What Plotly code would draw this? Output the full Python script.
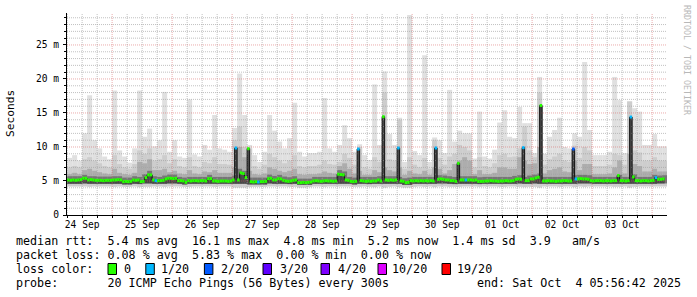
import numpy as np
import pandas as pd
import plotly.graph_objects as go

# ---------------- time frame ----------------
START = pd.Timestamp("2025-09-24 05:56:42")
END = pd.Timestamp("2025-10-04 05:56:42")
FIRST_BIN = pd.Timestamp("2025-09-24 06:00:00")
Y_MAX = 29.7

# ---------------- data ----------------
# hourly median rtt in ms (240 hours)
median_ms = [
    5.15, 5.1, 5.15, 5.1, 5.15, 5.2, 5.4, 5.4, 5.15, 5.2,
    5.15, 5.1, 5.1, 5.1, 5.05, 5.1, 5.1, 5.1, 5.15, 5.15,
    5.2, 5.15, 4.9, 4.95, 4.9, 4.95, 5.15, 5.1, 5.15, 4.9,
    4.95, 5.5, 5.9, 5.9, 5.15, 5.05, 5.05, 5.05, 5.1, 5.3,
    5.4, 5.4, 5.35, 5.4, 5.05, 5.05, 5.0, 4.8, 5.05, 5.0,
    5.05, 5.05, 5.0, 5.05, 5.05, 5.0, 5.35, 5.35, 5.0, 5.0,
    4.95, 5.0, 5.0, 5.0, 4.95, 5.0, 5.15, 9.85, 5.15, 6.2,
    6.1, 5.5, 9.75, 4.9, 4.85, 4.9, 4.85, 4.9, 4.9, 4.95,
    5.35, 5.4, 5.15, 5.15, 5.35, 5.3, 5.1, 5.0, 4.95, 5.0,
    5.1, 5.15, 4.75, 4.75, 4.8, 4.75, 4.8, 4.85, 5.0, 5.05,
    5.0, 4.95, 5.0, 5.05, 5.0, 5.0, 4.95, 5.0, 6.0, 5.95,
    5.9, 5.15, 5.1, 4.95, 4.9, 4.95, 9.7, 5.05, 5.0, 4.95,
    5.0, 4.95, 5.0, 5.0, 5.15, 5.0, 14.45, 5.15, 5.1, 5.15,
    5.1, 5.15, 9.85, 5.0, 4.95, 4.75, 4.8, 5.05, 5.0, 5.05,
    5.0, 5.05, 5.0, 5.05, 5.0, 5.05, 5.0, 9.85, 5.25, 5.3,
    5.25, 5.15, 5.15, 5.05, 5.05, 4.95, 7.6, 5.15, 5.15, 5.15,
    5.15, 5.15, 5.1, 5.15, 4.95, 4.95, 4.95, 5.0, 5.0, 5.05,
    5.0, 5.0, 4.95, 5.0, 5.0, 5.05, 5.0, 5.0, 5.05, 5.25,
    5.3, 5.25, 9.9, 5.05, 5.05, 5.3, 5.3, 5.45, 5.55, 16.1,
    5.0, 5.0, 5.05, 5.0, 5.0, 4.95, 5.0, 5.0, 5.05, 5.05,
    5.0, 5.0, 9.7, 5.3, 5.3, 5.35, 5.3, 5.3, 5.25, 5.05,
    5.0, 5.05, 5.05, 5.05, 5.0, 5.05, 5.05, 5.0, 5.05, 5.05,
    5.8, 5.05, 5.05, 5.0, 5.05, 14.4, 5.6, 5.05, 5.05, 5.0,
    5.05, 5.05, 5.0, 5.05, 5.1, 5.5, 5.25, 5.25, 5.3, None,
]

# hourly average pings lost (out of 20)
loss_pings = [0.0] * 240
for _i, _v in [(35, 0.3), (67, 0.5), (76, 0.2), (116, 0.6), (132, 0.5), (147, 0.7),
               (159, 0.3), (182, 0.6), (202, 1.17), (203, 0.3), (225, 0.8), (235, 0.4)]:
    loss_pings[_i] = _v

# smoke, 2-hour bins (120 bins), ms
smoke_max = [
    8.4, 8.8, 8.0, 12.0, 17.6, 11.0, 9.8, 8.6, 8.2, 18.3,
    9.5, 8.6, 7.7, 9.8, 18.3, 11.5, 12.7, 10.1, 11.0, 18.1,
    9.3, 11.0, 8.6, 8.4, 17.0, 8.9, 8.6, 10.3, 9.6, 14.7,
    9.8, 9.6, 9.3, 12.8, 20.8, 14.7, 10.3, 8.8, 7.8, 9.3,
    14.7, 12.4, 10.8, 9.8, 11.3, 16.5, 9.3, 8.6, 9.1, 9.1,
    9.3, 17.2, 9.8, 9.3, 10.3, 13.2, 11.3, 9.3, 10.4, 8.8,
    8.1, 19.2, 10.3, 21.1, 11.9, 10.3, 14.3, 7.8, 29.4, 9.4,
    8.8, 23.5, 7.8, 11.4, 11.0, 9.1, 18.4, 10.8, 12.4, 12.0,
    12.0, 8.3, 15.2, 8.6, 8.3, 9.6, 13.6, 15.4, 11.5, 11.3,
    15.9, 13.5, 13.5, 9.1, 20.3, 9.0, 11.5, 12.5, 14.3, 10.0,
    9.8, 12.0, 11.5, 22.5, 12.5, 8.8, 8.8, 8.8, 9.3, 20.3,
    16.9, 9.1, 16.7, 15.7, 15.2, 10.3, 10.3, 11.9, 10.1, 10.1,
]
smoke_p90 = [
    7.0, 7.2, 7.0, 8.2, 8.5, 8.0, 7.6, 7.2, 7.0, 8.8,
    7.5, 7.0, 6.8, 7.5, 9.5, 9.0, 9.8, 8.0, 8.2, 8.8,
    7.6, 8.2, 7.2, 7.0, 8.5, 7.2, 7.0, 7.8, 7.6, 8.5,
    7.5, 7.5, 7.4, 11.0, 13.0, 10.0, 9.8, 7.2, 6.8, 7.4,
    9.0, 8.5, 8.0, 7.6, 8.0, 8.8, 7.2, 7.0, 7.2, 7.2,
    7.4, 8.0, 7.5, 7.4, 7.8, 9.0, 8.4, 7.4, 10.0, 7.0,
    6.8, 8.5, 7.8, 18.0, 8.2, 8.0, 14.0, 6.8, 8.5, 7.4,
    7.0, 8.4, 6.8, 11.0, 8.4, 7.4, 8.6, 9.0, 10.3, 10.0,
    9.5, 7.0, 8.5, 7.2, 7.0, 7.6, 8.8, 9.0, 8.5, 8.6,
    9.8, 13.0, 9.5, 8.5, 18.0, 7.4, 8.2, 8.6, 9.0, 8.0,
    7.8, 10.2, 8.4, 10.0, 9.5, 7.2, 7.2, 7.2, 7.4, 9.0,
    8.8, 7.4, 16.7, 9.5, 9.2, 8.0, 8.0, 8.5, 8.0, 8.0,
]
smoke_p75 = [
    6.0, 6.2, 6.0, 6.6, 6.8, 6.5, 6.3, 6.1, 6.0, 6.8,
    6.2, 6.0, 5.9, 6.2, 7.8, 7.6, 8.2, 6.6, 6.6, 6.8,
    6.3, 6.5, 6.1, 6.0, 6.6, 6.1, 6.0, 6.4, 6.3, 6.6,
    6.2, 6.2, 6.2, 7.0, 10.0, 8.5, 6.5, 6.0, 5.9, 6.1,
    7.0, 6.8, 6.5, 6.3, 6.5, 6.8, 6.0, 5.9, 6.0, 6.0,
    6.1, 6.4, 6.2, 6.1, 7.2, 7.6, 6.8, 6.1, 6.5, 5.9,
    5.9, 6.6, 6.3, 7.0, 6.6, 6.4, 7.0, 5.9, 6.5, 6.1,
    6.0, 6.5, 5.9, 7.0, 6.8, 6.1, 6.6, 7.5, 8.0, 8.5,
    8.0, 6.0, 6.6, 6.0, 6.0, 6.2, 7.0, 7.0, 6.8, 6.8,
    8.5, 8.0, 7.5, 7.6, 10.0, 6.1, 6.6, 6.8, 7.0, 6.4,
    6.3, 8.0, 6.6, 7.5, 7.5, 6.0, 6.0, 6.0, 6.1, 7.0,
    8.0, 6.1, 9.0, 7.5, 7.2, 6.4, 6.4, 6.8, 6.4, 6.4,
]
smoke_p60 = [
    5.7, 5.7, 5.7, 5.9, 5.7, 5.7, 5.65, 5.65, 5.65, 5.7,
    5.7, 5.5, 5.5, 5.7, 5.6, 6.0, 6.5, 5.7, 5.6, 5.8,
    5.95, 5.95, 5.6, 5.5, 5.6, 5.6, 5.6, 5.6, 5.9, 5.6,
    5.6, 5.6, 5.6, 5.8, 6.8, 6.5, 5.5, 5.5, 5.5, 5.5,
    5.95, 5.75, 5.9, 5.65, 5.55, 5.7, 5.35, 5.35, 5.35, 5.6,
    5.6, 5.6, 5.6, 5.6, 6.6, 6.4, 5.6, 5.5, 5.6, 5.6,
    5.6, 5.6, 5.7, 5.7, 5.7, 5.7, 5.6, 5.4, 5.5, 5.6,
    5.6, 5.6, 5.6, 5.6, 5.85, 5.8, 5.7, 5.6, 5.7, 5.7,
    5.7, 5.7, 5.55, 5.6, 5.6, 5.6, 5.6, 5.6, 5.6, 5.75,
    5.85, 5.6, 5.8, 5.95, 6.1, 5.6, 5.6, 5.6, 5.6, 5.6,
    5.6, 5.85, 5.9, 5.9, 5.85, 5.6, 5.6, 5.6, 5.6, 5.6,
    5.9, 5.6, 5.6, 6.0, 5.6, 5.6, 5.6, 5.9, 5.8, 5.85,
]
smoke_low = [
    4.6, 4.6, 4.6, 4.65, 4.6, 4.6, 4.6, 4.6, 4.6, 4.6,
    4.6, 4.5, 4.5, 4.6, 4.55, 4.65, 4.65, 4.6, 4.6, 4.6,
    4.65, 4.65, 4.6, 4.5, 4.6, 4.6, 4.6, 4.6, 4.6, 4.6,
    4.6, 4.6, 4.6, 4.6, 4.6, 4.6, 4.5, 4.5, 4.5, 4.5,
    4.65, 4.6, 4.6, 4.6, 4.55, 4.6, 4.45, 4.45, 4.45, 4.6,
    4.6, 4.6, 4.6, 4.6, 4.6, 4.6, 4.6, 4.5, 4.6, 4.6,
    4.55, 4.6, 4.6, 4.6, 4.6, 4.6, 4.6, 4.45, 4.45, 4.6,
    4.6, 4.6, 4.6, 4.6, 4.65, 4.65, 4.6, 4.55, 4.6, 4.6,
    4.6, 4.6, 4.55, 4.6, 4.6, 4.6, 4.6, 4.6, 4.6, 4.6,
    4.65, 4.6, 4.6, 4.65, 4.6, 4.6, 4.6, 4.6, 4.6, 4.6,
    4.6, 4.6, 4.65, 4.65, 4.65, 4.6, 4.6, 4.6, 4.6, 4.6,
    4.6, 4.6, 4.6, 4.6, 4.6, 4.6, 4.6, 4.6, 4.65, 4.65,
]
smoke_min = [
    4.2, 4.2, 4.2, 4.2, 4.15, 4.2, 4.2, 4.2, 4.2, 4.15,
    4.2, 4.15, 4.15, 4.2, 4.1, 4.15, 4.15, 4.2, 4.2, 4.15,
    4.2, 4.2, 4.2, 4.15, 4.15, 4.2, 4.2, 4.2, 4.2, 4.15,
    4.2, 4.2, 4.2, 4.05, 4.05, 4.05, 4.1, 4.15, 4.15, 4.15,
    4.2, 4.2, 4.2, 4.2, 4.15, 4.15, 4.05, 4.05, 4.1, 4.2,
    4.2, 4.15, 4.2, 4.2, 4.2, 4.2, 4.2, 4.15, 4.15, 4.2,
    4.15, 4.1, 4.2, 4.05, 4.15, 4.2, 4.1, 4.05, 4.05, 4.15,
    4.2, 4.15, 4.2, 4.1, 4.2, 4.2, 4.15, 4.15, 4.15, 4.2,
    4.2, 4.2, 4.15, 4.2, 4.2, 4.2, 4.15, 4.15, 4.2, 4.2,
    4.15, 4.1, 4.15, 4.15, 4.05, 4.2, 4.2, 4.2, 4.15, 4.2,
    4.2, 4.1, 4.2, 4.15, 4.2, 4.2, 4.2, 4.2, 4.2, 4.15,
    4.15, 4.2, 4.05, 4.15, 4.2, 4.2, 4.2, 4.2, 4.2, 4.2,
]

# axes labels
y_tick_vals = [0, 5, 10, 15, 20, 25]
y_tick_text = ["0", "5 m", "10 m", "15 m", "20 m", "25 m"]
day_labels = ["24 Sep", "25 Sep", "26 Sep", "27 Sep", "28 Sep",
              "29 Sep", "30 Sep", "01 Oct", "02 Oct", "03 Oct"]

# loss colour classes
loss_labels = ["0", "1/20", "2/20", "3/20", "4/20", "10/20", "19/20"]
loss_upper = [0, 1, 2, 3, 4, 10, 20]
loss_colors = ["#26ff00", "#00b8ff", "#0059ff", "#5e00ff", "#7e00ff", "#dd00ff", "#ff0000"]

stat_lines = [
    "median rtt:  5.4 ms avg  16.1 ms max  4.8 ms min  5.2 ms now  1.4 ms sd  3.9   am/s",
    "packet loss: 0.08 % avg  5.83 % max  0.00 % min  0.00 % now",
]
probe_text = "probe:       20 ICMP Echo Pings (56 Bytes) every 300s"
end_text = "end: Sat Oct  4 05:56:42 2025"
side_text = "RRDTOOL / TOBI OETIKER"

# ---------------- geometry helpers ----------------
W, H = 697, 297
ML, MR, MT, MB = 67, 30, 13, 82
PW, PH = W - ML - MR, H - MT - MB


def px_x(p):
    return (p - ML) / PW


def px_y(p):
    return (H - MB - p) / PH


def ts(t):
    return t.strftime("%Y-%m-%d %H:%M:%S")


MONO = "DejaVu Sans Mono"
n_h = len(median_ms)
n_b = len(smoke_max)
hour = pd.Timedelta(hours=1)
hour_start = [FIRST_BIN + i * hour for i in range(n_h)]
hour_mid = [ts(t + hour / 2) for t in hour_start]
bin_mid = [ts(FIRST_BIN + (2 * j + 1) * hour) for j in range(n_b)]

fig = go.Figure()

# ---------------- smoke ----------------
layers = [
    (smoke_max, smoke_min, "#e0e0e0"),
    (smoke_p90, smoke_min, "#cdcdcd"),
    (smoke_p75, smoke_low, "#adadad"),
    (smoke_p60, smoke_low, "#767676"),
]
for top, base, col in layers:
    top_a = np.array(top, dtype=float)
    base_a = np.array(base, dtype=float)
    fig.add_trace(go.Bar(x=bin_mid, y=top_a - base_a, base=base_a,
                         width=2 * 3600 * 1000,
                         marker=dict(color=col, line=dict(width=0)),
                         hoverinfo="skip", showlegend=False))

# dark column under the hourly median
med_a = np.array([np.nan if v is None else v for v in median_ms], dtype=float)
low_h = np.array(smoke_low, dtype=float)[np.arange(n_h) // 2]
fig.add_trace(go.Bar(x=hour_mid, y=med_a - low_h, base=low_h, width=3600 * 1000,
                     marker=dict(color="#484848", line=dict(width=0)),
                     hoverinfo="skip", showlegend=False))

# ---------------- grid (drawn over the smoke) ----------------
six = pd.date_range("2025-09-24 06:00", "2025-10-04 00:00", freq="6h")
minor_v = [t for t in six if t.hour != 0]
major_v = [t for t in six if t.hour == 0]
minor_h = [v for v in range(1, 30) if v % 5 != 0 and v < Y_MAX]
major_h = [v for v in range(5, 30, 5)]


def vlines(times):
    xs, ys = [], []
    for t in times:
        xs += [ts(t), ts(t), None]
        ys += [0, Y_MAX, None]
    return xs, ys


def hlines(vals):
    xs, ys = [], []
    for v in vals:
        xs += [ts(START), ts(END), None]
        ys += [v, v, None]
    return xs, ys


for (xs, ys), col in [(vlines(minor_v), "rgba(160,160,160,0.65)"),
                      (hlines(minor_h), "rgba(160,160,160,0.65)"),
                      (vlines(major_v), "rgba(215,90,90,0.5)"),
                      (hlines(major_h), "rgba(215,90,90,0.5)")]:
    fig.add_trace(go.Scatter(x=xs, y=ys, mode="lines",
                             line=dict(color=col, width=1, dash="1px,1px"),
                             hoverinfo="skip", showlegend=False))

# ---------------- median: thin dark step line ----------------
sx, sy = [], []
for i, v in enumerate(median_ms):
    if v is None:
        sx.append(None)
        sy.append(None)
        continue
    sx += [ts(hour_start[i]), ts(hour_start[i] + hour)]
    sy += [v, v]
fig.add_trace(go.Scatter(x=sx, y=sy, mode="lines",
                         line=dict(color="#101010", width=1),
                         hoverinfo="skip", showlegend=False))


def loss_class(v):
    if v <= 0:
        return 0
    for k in range(1, len(loss_upper)):
        if v <= loss_upper[k]:
            return k
    return len(loss_upper) - 1


# coloured median boxes per loss class
for k, col in enumerate(loss_colors):
    xs, ys = [], []
    for i, v in enumerate(median_ms):
        if v is None or loss_class(loss_pings[i]) != k:
            continue
        xs += [ts(hour_start[i]), ts(hour_start[i] + hour), None]
        ys += [v, v, None]
    if xs:
        fig.add_trace(go.Scatter(x=xs, y=ys, mode="lines",
                                 line=dict(color=col, width=3),
                                 hoverinfo="skip", showlegend=False))

# axis arrows
fig.add_trace(go.Scatter(x=[ts(END + pd.Timedelta(hours=1.4))], y=[0], mode="markers",
                         marker=dict(symbol="triangle-right", size=7, color="#8b0000",
                                     line=dict(width=0)),
                         cliponaxis=False, hoverinfo="skip", showlegend=False))
fig.add_trace(go.Scatter(x=[ts(START)], y=[Y_MAX + 0.45], mode="markers",
                         marker=dict(symbol="triangle-up", size=7, color="#8b0000",
                                     line=dict(width=0)),
                         cliponaxis=False, hoverinfo="skip", showlegend=False))

# ---------------- annotations ----------------
def nb(s):
    return s.replace(" ", "\u00a0")


ann = []
ann.append(dict(text="Seconds", x=px_x(10.5), y=px_y(113.5), xref="paper", yref="paper",
                textangle=-90, showarrow=False, xanchor="center", yanchor="middle",
                font=dict(family=MONO, size=11.2, color="#000000")))
ann.append(dict(text=nb(side_text), x=px_x(687), y=px_y(60), xref="paper", yref="paper",
                textangle=90, showarrow=False, xanchor="center", yanchor="middle",
                font=dict(family=MONO, size=8.3, color="#b8b8b8")))

row_y = [241, 255, 269, 283]
for line, ry in zip(stat_lines, row_y[:2]):
    ann.append(dict(text=nb(line), x=px_x(16), y=px_y(ry), xref="paper", yref="paper",
                    showarrow=False, xanchor="left", yanchor="middle", borderpad=0,
                    borderwidth=0, font=dict(family=MONO, size=11.7, color="#000000")))
ann.append(dict(text=nb("loss color:"), x=px_x(16), y=px_y(row_y[2]), xref="paper",
                yref="paper", showarrow=False, xanchor="left", yanchor="middle",
                borderpad=0, borderwidth=0,
                font=dict(family=MONO, size=11.7, color="#000000")))
ann.append(dict(text=nb(probe_text), x=px_x(16), y=px_y(row_y[3]), xref="paper",
                yref="paper", showarrow=False, xanchor="left", yanchor="middle",
                borderpad=0, borderwidth=0,
                font=dict(family=MONO, size=11.7, color="#000000")))
ann.append(dict(text=nb(end_text), x=px_x(681), y=px_y(row_y[3]), xref="paper",
                yref="paper", showarrow=False, xanchor="right", yanchor="middle",
                borderpad=0, borderwidth=0,
                font=dict(family=MONO, size=11.7, color="#000000")))

box_x = [108, 145.8, 204.4, 263, 321, 378, 442]
label_x = [124.4, 161.3, 220.9, 280, 337.8, 392.4, 457]
shapes = []
for bx, lx, lab, col in zip(box_x, label_x, loss_labels, loss_colors):
    shapes.append(dict(type="rect", xref="paper", yref="paper",
                       x0=px_x(bx), x1=px_x(bx + 8.5),
                       y0=px_y(row_y[2] + 5.5), y1=px_y(row_y[2] - 5.5),
                       fillcolor=col, line=dict(color="#000000", width=1)))
    ann.append(dict(text=nb(lab), x=px_x(lx), y=px_y(row_y[2]), xref="paper",
                    yref="paper", showarrow=False, xanchor="left", yanchor="middle",
                    borderpad=0, borderwidth=0,
                    font=dict(family=MONO, size=11.7, color="#000000")))

noon = [ts(pd.Timestamp("2025-09-24 12:00") + pd.Timedelta(days=d)) for d in range(len(day_labels))]

fig.update_layout(
    width=W, height=H,
    margin=dict(l=ML, r=MR, t=MT, b=MB, pad=0),
    paper_bgcolor="#ffffff", plot_bgcolor="#ffffff",
    barmode="overlay", showlegend=False, hovermode=False,
    annotations=ann, shapes=shapes,
    xaxis=dict(type="date", range=[ts(START), ts(END)], showgrid=False, zeroline=False,
               showline=True, linecolor="#000000", linewidth=1,
               tickmode="array", tickvals=noon, ticktext=day_labels, ticks="",
               tickfont=dict(family=MONO, size=9.6, color="#000000"),
               minor=dict(tick0="2025-09-24", dtick=6 * 3600 * 1000, ticks="outside",
                          ticklen=2, tickcolor="#000000", showgrid=False)),
    yaxis=dict(range=[0, Y_MAX], showgrid=False, zeroline=False,
               showline=True, linecolor="#000000", linewidth=1,
               tickmode="array", tickvals=y_tick_vals, ticktext=y_tick_text,
               ticks="outside", ticklen=3, tickcolor="#000000",
               ticklabelstandoff=2,
               tickfont=dict(family=MONO, size=9.6, color="#000000"),
               minor=dict(tick0=0, dtick=1, ticks="outside", ticklen=2,
                          tickcolor="#000000", showgrid=False)),
)

fig.write_html("out.html")
